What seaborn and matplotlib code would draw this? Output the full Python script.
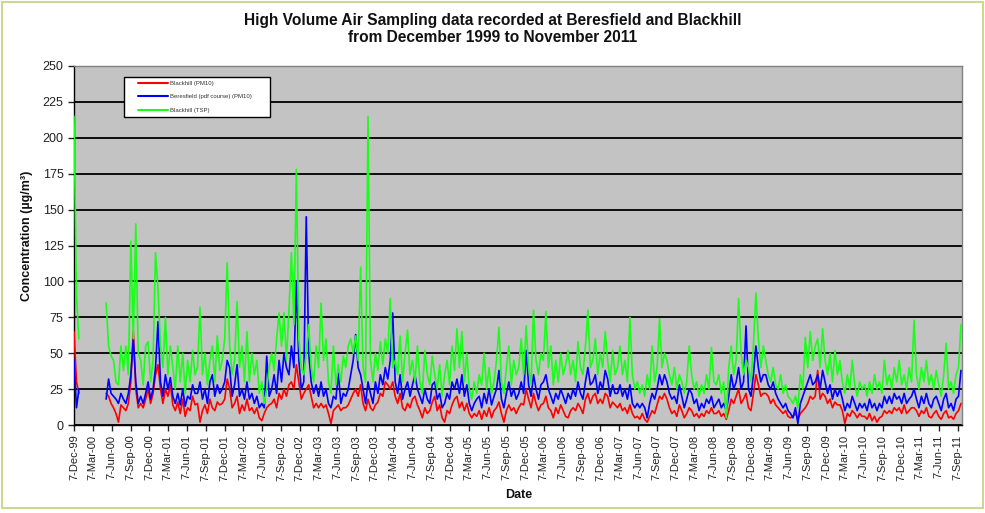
import numpy as np
import pandas as pd
import matplotlib
matplotlib.use("Agg")
import matplotlib.pyplot as plt
from matplotlib.patches import Rectangle
from matplotlib.lines import Line2D
import seaborn as sns

nan = np.nan

# High volume samples, one value every 12 days starting 7 Dec 1999 (µg/m³)
sample_start = "1999-12-07"
sample_step = "12D"

pm10_blackhill = [
    65, 30, 22, nan, nan, nan, nan, nan, nan, nan,
    nan, nan, nan, 22, 20, 15, 12, 8, 2, 14,
    12, 10, 15, 30, 65, 25, 12, 15, 12, 18,
    25, 15, 22, 35, 42, 25, 15, 25, 20, 28,
    14, 10, 16, 8, 18, 6, 12, 10, 20, 14,
    15, 2, 10, 14, 8, 18, 12, 10, 16, 14,
    15, 18, 32, 25, 12, 15, 20, 8, 14, 10,
    18, 10, 12, 8, 12, 5, 3, 8, 12, 14,
    15, 18, 12, 22, 18, 25, 20, 28, 30, 25,
    42, 30, 18, 22, 25, 28, 20, 12, 15, 12,
    15, 12, 14, 8, 1, 10, 12, 14, 10, 12,
    12, 14, 18, 22, 25, 20, 28, 15, 10, 18,
    12, 10, 14, 16, 22, 20, 30, 28, 25, 30,
    20, 15, 22, 12, 10, 15, 12, 18, 20, 14,
    10, 5, 12, 8, 10, 16, 20, 10, 14, 5,
    2, 10, 8, 14, 18, 20, 12, 16, 10, 15,
    8, 5, 8, 6, 10, 4, 10, 6, 12, 5,
    10, 12, 16, 8, 2, 10, 14, 10, 12, 8,
    12, 15, 14, 25, 18, 12, 22, 15, 10, 14,
    15, 20, 12, 10, 5, 12, 8, 14, 10, 6,
    5, 10, 12, 10, 15, 12, 8, 18, 22, 15,
    20, 22, 15, 18, 15, 22, 20, 12, 16, 14,
    12, 15, 10, 12, 8, 14, 8, 5, 6, 4,
    8, 4, 2, 6, 10, 8, 14, 20, 18, 22,
    18, 12, 8, 10, 6, 14, 10, 5, 8, 12,
    10, 6, 8, 5, 8, 6, 10, 8, 12, 8,
    8, 10, 6, 8, 4, 10, 18, 15, 20, 25,
    15, 18, 22, 12, 10, 22, 35, 28, 20, 22,
    22, 20, 15, 18, 14, 12, 10, 8, 10, 6,
    5, 6, 8, 4, 8, 10, 12, 15, 20, 18,
    20, 38, 18, 22, 20, 15, 18, 12, 16, 14,
    14, 10, 1, 8, 6, 10, 8, 5, 8, 6,
    6, 4, 8, 3, 6, 2, 5, 6, 10, 8,
    10, 8, 12, 10, 12, 8, 14, 8, 10, 12,
    12, 10, 6, 10, 8, 12, 6, 5, 8, 10,
    6, 4, 8, 10, 5, 6, 4, 8, 10, 15,
]

pm10_beresfield = [
    45, 12, 25, nan, nan, nan, nan, nan, nan, nan,
    nan, nan, nan, 18, 32, 22, 20, 18, 15, 22,
    18, 15, 22, 35, 60, 30, 15, 20, 15, 22,
    30, 18, 25, 40, 72, 30, 20, 35, 25, 33,
    20, 15, 22, 14, 25, 13, 20, 18, 28, 22,
    22, 30, 18, 25, 15, 30, 35, 20, 28, 22,
    25, 30, 45, 40, 20, 28, 42, 20, 25, 18,
    30, 18, 22, 15, 20, 12, 15, 12, 48, 20,
    25, 35, 22, 45, 30, 50, 40, 35, 55, 40,
    100, 45, 25, 30, 145, 50, 30, 22, 28, 20,
    30, 20, 25, 15, 12, 20, 18, 36, 15, 22,
    20, 25, 35, 45, 63, 40, 35, 25, 15, 30,
    22, 15, 30, 22, 35, 28, 40, 32, 45, 78,
    30, 22, 35, 18, 25, 30, 20, 28, 35, 25,
    20, 15, 25, 18, 15, 28, 30, 18, 22, 12,
    15, 22, 18, 30, 25, 32, 22, 35, 20, 28,
    15, 10, 15, 18, 20, 12, 22, 15, 25, 14,
    20, 25, 38, 18, 12, 22, 30, 20, 25, 18,
    22, 30, 22, 52, 28, 20, 35, 25, 18, 28,
    30, 35, 25, 20, 15, 22, 18, 25, 20, 15,
    22, 18, 25, 20, 30, 22, 18, 30, 40, 28,
    30, 35, 22, 30, 25, 38, 32, 20, 28, 22,
    22, 28, 20, 25, 18, 28, 15, 12, 15, 12,
    15, 12, 5, 15, 22, 18, 25, 35, 28, 35,
    30, 22, 18, 20, 15, 28, 20, 12, 18, 25,
    22, 15, 18, 10, 15, 12, 18, 15, 20, 12,
    15, 18, 12, 15, 10, 20, 35, 25, 30, 40,
    25, 30, 69, 25, 20, 35, 55, 40, 30, 35,
    35, 28, 25, 30, 22, 18, 15, 12, 15, 10,
    8, 5, 12, 1, 15, 20, 25, 30, 35, 28,
    30, 35, 25, 38, 30, 22, 28, 18, 25, 20,
    25, 18, 10, 15, 12, 20, 15, 10, 15, 12,
    15, 10, 18, 12, 15, 10, 15, 12, 20, 15,
    20, 15, 22, 18, 20, 15, 22, 15, 18, 20,
    25, 18, 12, 20, 15, 22, 15, 12, 18, 20,
    15, 10, 18, 22, 12, 15, 10, 18, 20, 38,
]

tsp_blackhill = [
    215, 90, 60, nan, nan, nan, nan, nan, nan, nan,
    nan, nan, nan, 85, 55, 48, 45, 30, 28, 55,
    38, 55, 35, 128, 60, 140, 50, 45, 28, 55,
    58, 30, 45, 120, 95, 55, 40, 75, 35, 55,
    40, 25, 55, 30, 50, 22, 45, 30, 52, 35,
    40, 82, 35, 50, 28, 45, 55, 30, 62, 38,
    45, 60, 113, 55, 35, 45, 86, 40, 55, 30,
    65, 30, 50, 35, 45, 22, 30, 15, 25, 40,
    50, 38, 60, 78, 55, 78, 45, 80, 120, 70,
    178, 60, 40, 35, 50, 70, 40, 30, 55, 40,
    85, 45, 60, 30, 22, 55, 28, 42, 30, 48,
    40, 55, 60, 50, 62, 45, 110, 40, 30, 215,
    45, 30, 50, 38, 58, 42, 60, 50, 88, 40,
    45, 35, 62, 30, 50, 66, 35, 45, 30, 55,
    30, 22, 52, 35, 28, 48, 35, 25, 42, 20,
    35, 45, 28, 55, 38, 67, 40, 65, 30, 50,
    25, 18, 30, 22, 35, 28, 50, 25, 40, 22,
    30, 45, 68, 30, 22, 40, 55, 28, 45, 35,
    40, 60, 35, 69, 40, 28, 80, 45, 35, 50,
    45, 79, 40, 55, 28, 45, 30, 50, 35, 42,
    52, 35, 45, 30, 58, 40, 35, 55, 80, 40,
    45, 60, 35, 50, 40, 65, 45, 30, 52, 35,
    40, 55, 35, 45, 30, 75, 35, 25, 30, 22,
    28, 20, 35, 25, 55, 30, 40, 74, 40, 50,
    45, 35, 28, 40, 25, 35, 30, 22, 30, 55,
    35, 25, 30, 20, 28, 22, 35, 25, 54, 30,
    28, 35, 22, 30, 5, 40, 55, 35, 45, 88,
    50, 35, 45, 40, 30, 55, 92, 60, 40, 55,
    45, 35, 30, 40, 28, 25, 35, 22, 28, 20,
    18, 15, 20, 12, 35, 25, 61, 40, 65, 45,
    55, 60, 40, 67, 45, 35, 50, 30, 52, 35,
    45, 30, 22, 35, 25, 45, 28, 20, 30, 25,
    28, 20, 30, 22, 35, 25, 30, 22, 45, 28,
    35, 25, 40, 30, 45, 28, 35, 25, 40, 30,
    73, 35, 25, 40, 30, 45, 28, 35, 25, 38,
    28, 20, 35, 57, 25, 30, 22, 35, 40, 70,
]

series_names = ["Blackhill (PM10)", "Beresfield (pdf course) (PM10)", "Blackhill (TSP)"]
series_values = [pm10_blackhill, pm10_beresfield, tsp_blackhill]
series_colors = ["#ff0000", "#0000ff", "#1aff1a"]

y_ticks = [0, 25, 50, 75, 100, 125, 150, 175, 200, 225, 250]
title_lines = ["High Volume Air Sampling data recorded at Beresfield and Blackhill",
               "from December 1999 to November 2011"]

# Long-form table; a new segment starts after each run of missing samples
frames = []
for name, values in zip(series_names, series_values):
    vals = np.asarray(values, dtype=float)
    dates = pd.date_range(sample_start, periods=len(vals), freq=sample_step)
    seg = np.cumsum(np.isnan(vals))
    df = pd.DataFrame({"date": dates, "value": vals, "series": name, "segment": seg})
    frames.append(df.dropna())
data = pd.concat(frames, ignore_index=True)

sns.set_theme(style="white")
plt.rcParams["font.family"] = ["Liberation Sans", "DejaVu Sans"]

W, H = 985, 513
fig = plt.figure(figsize=(W / 100, H / 100), dpi=100)
fig.patch.set_facecolor("white")

L, R, T, B = 74, 962, 66, 425
ax = fig.add_axes([L / W, 1 - B / H, (R - L) / W, (B - T) / H])
ax.set_facecolor("#c3c3c3")

for name, color in zip(series_names, series_colors):
    sub = data[data["series"] == name]
    sns.lineplot(data=sub, x="date", y="value", units="segment", estimator=None,
                 color=color, lw=1.2, ax=ax, legend=False, zorder=3)

ax.set_ylim(0, 250)
ax.set_yticks(y_ticks)
ax.set_xlim(pd.Timestamp("1999-12-07"), pd.Timestamp("2011-09-28"))

quarter_ticks = pd.date_range("1999-12-01", "2011-09-01", freq="3MS") + pd.Timedelta(days=6)
ax.set_xticks(quarter_ticks)
ax.set_xticklabels([f"{d.day}-{d:%b-%y}" for d in quarter_ticks], rotation=90,
                   fontsize=8, color="#222222")
ax.tick_params(axis="y", labelsize=9, colors="#222222", direction="out", length=4,
               width=1, left=True)
ax.tick_params(axis="x", direction="out", length=4, width=1, bottom=True, pad=3)

ax.yaxis.grid(True, color="black", lw=1.3, zorder=1)
ax.xaxis.grid(False)
ax.set_axisbelow(True)
ax.set_xlabel("")
ax.set_ylabel("")

for side in ["left", "bottom"]:
    ax.spines[side].set_color("black")
    ax.spines[side].set_linewidth(1)
for side in ["top", "right"]:
    ax.spines[side].set_color("#808080")
    ax.spines[side].set_linewidth(1)

# Legend with a square white box
box_x0, box_x1, box_y0, box_y1 = 124, 270, 77, 117
ax.add_patch(Rectangle(((box_x0 - L) / (R - L), (B - box_y1) / (B - T)),
                       (box_x1 - box_x0) / (R - L), (box_y1 - box_y0) / (B - T),
                       transform=ax.transAxes, facecolor="white", edgecolor="black",
                       lw=1, zorder=6))
handles = [Line2D([], [], color=c, lw=1.5) for c in series_colors]
leg = ax.legend(handles, series_names, loc="upper left",
                bbox_to_anchor=((138 - L) / (R - L), (B - 81) / (B - T)),
                frameon=False, fontsize=4.3, handlelength=5.0, handletextpad=0.3,
                labelspacing=1.35, borderaxespad=0, borderpad=0)
leg.set_zorder(7)
for t in leg.get_texts():
    t.set_color("#333333")

fig.text(0.5, 1 - 20 / H, title_lines[0], ha="center", va="center",
         fontsize=11.2, fontweight="bold", color="#111111")
fig.text(0.5, 1 - 38 / H, title_lines[1], ha="center", va="center",
         fontsize=11.2, fontweight="bold", color="#111111")
fig.text(27 / W, 1 - 236 / H, "Concentration (µg/m³)", rotation=90, ha="center",
         va="center", fontsize=9, fontweight="bold", color="#111111")
fig.text(519 / W, 1 - 495 / H, "Date", ha="center", va="center", fontsize=9,
         fontweight="bold", color="#111111")

fig.patches.append(Rectangle((2 / W, 5 / H), (W - 4) / W, (H - 7) / H,
                             transform=fig.transFigure, fill=False,
                             edgecolor="#cad98f", lw=1.5))

fig.savefig("out.png", dpi=100)
